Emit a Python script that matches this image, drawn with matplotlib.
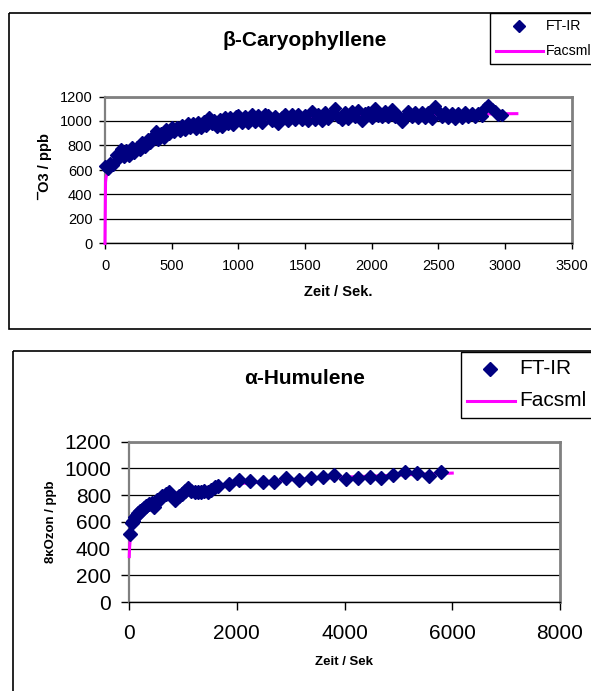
import numpy as np
import matplotlib
matplotlib.use("Agg")
import matplotlib.pyplot as plt
from matplotlib.patches import Rectangle
from matplotlib.lines import Line2D
from matplotlib.transforms import Affine2D

plt.rcParams["font.family"] = ["Liberation Sans", "DejaVu Sans"]

# beta-Caryophyllene: FT-IR ozone readings (s, ppb)
caryo_t = [0, 20, 40, 60, 80, 100, 120, 140, 160, 180, 200, 220, 240, 260, 280,
           300, 320, 340, 360, 380, 400, 420, 440, 460, 480, 500, 520, 540, 560,
           580, 600, 620, 640, 660, 680, 700, 720, 740, 760, 780, 800, 820, 840,
           860, 880, 900, 920, 940, 960, 980,
           1000, 1025, 1050, 1075, 1100, 1125, 1150, 1175, 1200, 1225, 1250, 1275,
           1300, 1325, 1350, 1375, 1400, 1425, 1450, 1475, 1500, 1525, 1550, 1575,
           1600, 1625, 1650, 1675, 1700, 1725, 1750, 1775, 1800, 1825, 1850, 1875,
           1900, 1925, 1950, 1975, 2000, 2025, 2050, 2075, 2100, 2125, 2150, 2175,
           2200, 2225, 2250, 2275, 2300, 2325, 2350, 2375, 2400, 2425, 2450, 2475,
           2500, 2525, 2550, 2575, 2600, 2625, 2650, 2675, 2700, 2725, 2750, 2775,
           2800, 2825, 2850, 2875, 2900, 2925, 2950, 2975]
caryo_o3 = [633, 610, 660, 640, 720, 690, 775, 705, 760, 715, 790, 740, 790, 760, 825,
            790, 850, 820, 880, 920, 845, 900, 865, 935, 890, 950, 910, 955, 915,
            965, 925, 985, 945, 985, 935, 990, 945, 1000, 960, 1030, 975, 1010, 955,
            1020, 950, 1035, 975, 1030, 965, 1040,
            1050, 985, 1040, 980, 1060, 995, 1050, 985, 1055, 1050, 1000, 1040,
            975, 1030, 1060, 1000, 1055, 1005, 1060, 1005, 1050, 1000, 1080, 1010,
            1060, 1000, 1070, 1015, 1065, 1105, 1030, 1010, 1070, 1020, 1080, 1030,
            1090, 1000, 1065, 1075, 1025, 1105, 1040, 1030, 1080, 1030, 1095, 1030,
            1045, 990, 1030, 1080, 1030, 1075, 1025, 1070, 1025, 1075, 1020, 1120,
            1085, 1035, 1075, 1025, 1065, 1020, 1065, 1025, 1070, 1030, 1065, 1035,
            1065, 1040, 1105, 1130, 1100, 1085, 1050, 1045]

# beta-Caryophyllene: Facsml model
caryo_model_t = [0, 2, 4, 8, 15, 25, 60, 120, 250, 500, 800, 1200, 1600, 2000, 2500, 3090]
caryo_model_o3 = [0, 250, 500, 540, 565, 585, 620, 680, 780, 900, 970, 1010, 1030, 1045, 1055, 1060]

# alpha-Humulene: FT-IR ozone readings (s, ppb)
humu_t = [20, 50, 80, 110, 140, 170, 200, 240, 280, 320, 370, 420, 470, 520, 570,
          620, 680, 740, 800, 860, 920, 980, 1040, 1100, 1160, 1220, 1280, 1340,
          1400, 1460, 1520, 1600, 1660, 1850, 2050, 2250, 2480, 2700, 2920, 3150,
          3370, 3600, 3800, 4020, 4250, 4470, 4680, 4900, 5120, 5340, 5560, 5800]
humu_o3 = [510, 590, 610, 640, 650, 665, 680, 690, 700, 715, 730, 740, 710, 760, 770,
           790, 810, 825, 790, 765, 790, 810, 830, 855, 830, 820, 825, 820, 830, 825,
           840, 860, 870, 880, 915, 905, 895, 900, 925, 910, 930, 935, 950, 920, 925,
           935, 925, 950, 975, 965, 945, 970]

# alpha-Humulene: Facsml model
humu_model_t = [5, 10, 20, 30, 60, 150, 300, 600, 1000, 1500, 2000, 2500, 3000, 4000, 5000, 6000]
humu_model_o3 = [340, 400, 460, 500, 560, 630, 700, 780, 830, 860, 885, 900, 915, 935, 950, 965]

W, H = 591, 691
fig = plt.figure(figsize=(W / 100, H / 100), dpi=100)
# pixel coordinates (origin top-left) -> figure
px = Affine2D().scale(1 / W, -1 / H).translate(0, 1) + fig.transFigure

navy = "#000080"
pink = "#FF00FF"
grey = "#808080"


def add_axes(left, top, right, bottom):
    return fig.add_axes([left / W, 1 - bottom / H, (right - left) / W, (bottom - top) / H])


def style_axes(ax, xmax, xstep, tick_size, tick_len, xpad, ypad):
    ax.set_xlim(0, xmax)
    ax.set_ylim(0, 1200)
    ax.set_xticks(np.arange(0, xmax + 1, xstep))
    ax.set_yticks(np.arange(0, 1201, 200))
    ax.yaxis.grid(True, color="black", lw=0.9)
    ax.set_axisbelow(True)
    for side in ["top", "right"]:
        ax.spines[side].set_color(grey)
        ax.spines[side].set_linewidth(2)
    ax.spines["left"].set_color(grey)
    ax.spines["left"].set_linewidth(1.6)
    ax.spines["bottom"].set_color("black")
    ax.spines["bottom"].set_linewidth(1)
    ax.tick_params(axis="both", labelsize=tick_size, length=tick_len, width=1,
                   color="black", direction="out")
    ax.tick_params(axis="x", pad=xpad)
    ax.tick_params(axis="y", pad=ypad)


def draw_legend(box, marker_xy, msize, line_x, line_y, text_x, fsize):
    fig.patches.append(Rectangle((box[0], box[1]), box[2] - box[0], box[3] - box[1],
                                 transform=px, fill=False, edgecolor="black", lw=1))
    fig.lines.append(Line2D([marker_xy[0]], [marker_xy[1]], transform=px, marker="D",
                            ms=msize, color=navy, ls="none"))
    fig.lines.append(Line2D(line_x, [line_y, line_y], transform=px, color=pink, lw=2.2))
    fig.text(text_x, marker_xy[1], "FT-IR", transform=px, fontsize=fsize, va="center")
    fig.text(text_x, line_y, "Facsml", transform=px, fontsize=fsize, va="center")


# outer frames
fig.patches.append(Rectangle((9, 13), 600, 316, transform=px, fill=False,
                             edgecolor="black", lw=1.2))
fig.patches.append(Rectangle((13, 351), 600, 360, transform=px, fill=False,
                             edgecolor="black", lw=1.2))

# top chart
ax1 = add_axes(105, 96.5, 571.5, 243.5)
style_axes(ax1, 3500, 500, 10.5, 4, 7, 5)
ax1.plot(caryo_model_t, caryo_model_o3, color=pink, lw=2.2, zorder=2.6, clip_on=False)
ax1.plot(caryo_t, caryo_o3, ls="none", marker="D", ms=5.7, color=navy, zorder=3,
         clip_on=False)
fig.text(305, 40, "β-Caryophyllene", transform=px, fontsize=15, fontweight="bold",
         ha="center", va="center")
fig.text(338, 292, "Zeit / Sek.", transform=px, fontsize=10.5, fontweight="bold",
         ha="center", va="center")
fig.text(45, 166, "¯O3 / ppb", transform=px, fontsize=10.5, fontweight="bold",
         ha="center", va="center", rotation=90)
draw_legend((490, 12.7, 610, 64), (519, 26), 6, (495.7, 543), 50.7, 545.7, 10.2)

# bottom chart
ax2 = add_axes(129, 441.7, 560, 602)
style_axes(ax2, 8000, 2000, 15, 6, 10, 7)
ax2.plot(humu_model_t, humu_model_o3, color=pink, lw=2.2, zorder=2.6, clip_on=False)
ax2.plot(humu_t, humu_o3, ls="none", marker="D", ms=7.2, color=navy, zorder=3,
         clip_on=False)
fig.text(305, 379, "α-Humulene", transform=px, fontsize=15, fontweight="bold",
         ha="center", va="center")
fig.text(344, 662, "Zeit / Sek", transform=px, fontsize=9.5, fontweight="bold",
         ha="center", va="center")
fig.text(51, 522, "8κOzon / ppb", transform=px, fontsize=9.5, fontweight="bold",
         ha="center", va="center", rotation=90)
draw_legend((460.6, 351.7, 610, 418.3), (490, 369), 7.3, (467, 514.5), 401, 519.4, 15)

fig.savefig("out.png", dpi=100)
